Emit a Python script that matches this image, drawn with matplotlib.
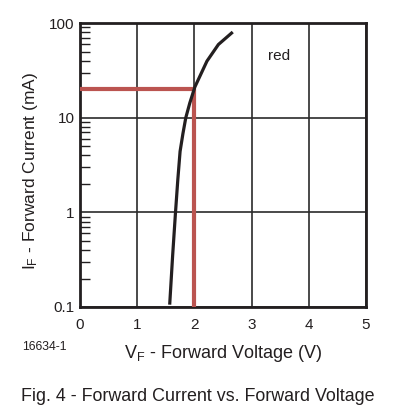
import matplotlib
matplotlib.use("Agg")
import matplotlib.pyplot as plt
from matplotlib.ticker import LogLocator, NullFormatter, FixedLocator
import numpy as np

plt.rcParams['font.family'] = ['Liberation Sans', 'DejaVu Sans']

# curve
vf = [1.57, 1.62, 1.67, 1.71, 1.75, 1.80, 1.85, 1.92, 2.01, 2.13, 2.22, 2.42, 2.65]
i_f = [0.11, 0.35, 1.0, 2.2, 4.4, 6.8, 10.0, 14.3, 21.2, 30.3, 39.6, 59.3, 78.3]

# operating point marker
op_v = 2.0
op_i = 20.0

x_ticks = [0, 1, 2, 3, 4, 5]
y_ticks = [0.1, 1, 10, 100]
y_labels = ['0.1', '1', '10', '100']

fig = plt.figure(figsize=(3.95, 4.17), dpi=100)
ax = fig.add_axes([0.2025, 0.2638, 0.724, 0.681])

ax.set_yscale('log')
ax.set_xlim(0, 5)
ax.set_ylim(0.1, 100)

ax.set_xticks(x_ticks)
ax.set_xticklabels([str(t) for t in x_ticks])
ax.yaxis.set_major_locator(FixedLocator(y_ticks))
ax.set_yticklabels(y_labels)
ax.yaxis.set_minor_locator(LogLocator(base=10, subs=np.arange(2, 10)))
ax.yaxis.set_minor_formatter(NullFormatter())

ax.grid(True, which='major', color='#2b2b2b', lw=1.2)
ax.tick_params(axis='x', which='major', length=0, labelsize=11,
               colors='#231f20', pad=8)
ax.tick_params(axis='y', which='major', length=0, labelsize=11,
               colors='#231f20', pad=4)
ax.tick_params(axis='y', which='minor', direction='in', length=7,
               width=1.0, color='#231f20')
for s in ax.spines.values():
    s.set_linewidth(2)
    s.set_color('#231f20')

# red operating lines
ax.plot([0, op_v], [op_i, op_i], color='#bb5450', lw=3, solid_capstyle='butt',
        zorder=3)
ax.plot([op_v, op_v], [op_i, 0.1], color='#bb5450', lw=3, solid_capstyle='butt',
        zorder=3)

ax.plot(vf, i_f, color='#231f20', lw=2.3, zorder=4)

ax.text(3.48, 45, 'red', fontsize=11, ha='center', va='center', color='#231f20')

ax.set_xlabel(r'V$\mathregular{_F}$ - Forward Voltage (V)', fontsize=13,
              color='#231f20', labelpad=8)
ax.set_ylabel(r'I$\mathregular{_F}$ - Forward Current (mA)', fontsize=12.5,
              color='#231f20')
ax.yaxis.set_label_coords(-0.14, 0.48)

fig.text(0.056, 0.168, '16634-1', fontsize=8.8, color='#231f20', va='center')
fig.text(0.5, 0.048, 'Fig. 4 - Forward Current vs. Forward Voltage',
         fontsize=12.9, ha='center', va='center', color='#231f20')

fig.savefig('out.png', dpi=100)
